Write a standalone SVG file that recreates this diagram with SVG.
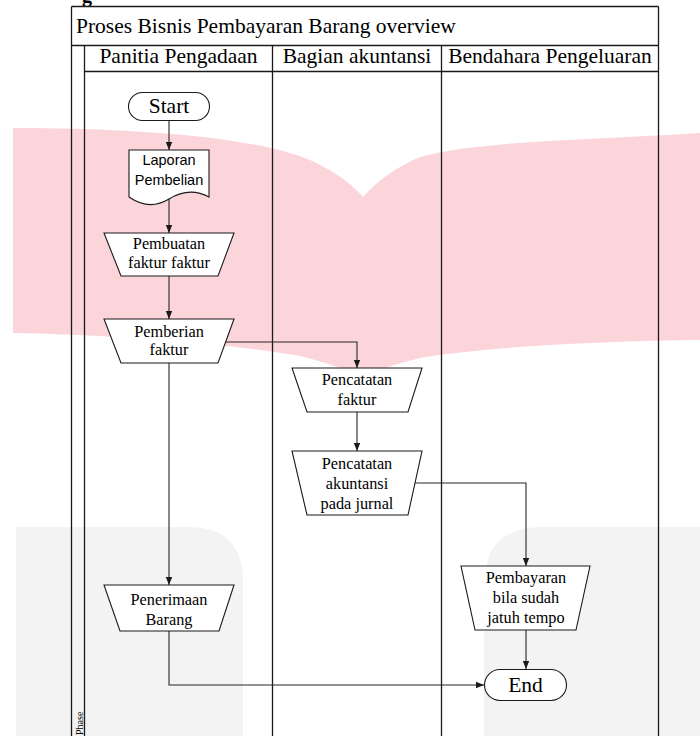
<svg xmlns="http://www.w3.org/2000/svg" width="700" height="736" viewBox="0 0 700 736">
<style>
.frame{fill:none;stroke:#1a1a1a;stroke-width:1.3}
.shape{fill:#ffffff;stroke:#1a1a1a;stroke-width:1.1}
.conn{fill:none;stroke:#262626;stroke-width:1.1}
.serif{font-family:"Liberation Serif","Times New Roman",serif;fill:#000}
.big{font-size:21.5px}
.node{font-size:16.3px;text-anchor:middle}
.sans{font-family:"Liberation Sans",Arial,sans-serif;font-size:14.5px;text-anchor:middle;fill:#000}
</style>
<defs>
<marker id="arr" viewBox="0 0 8 8" markerWidth="8" markerHeight="8" refX="8" refY="4" orient="auto" markerUnits="userSpaceOnUse">
<path d="M0,0.8 L8,4 L0,7.2 Z" fill="#1a1a1a"/>
</marker>
</defs>
<rect width="700" height="736" fill="#ffffff"/>
<g id="watermark">
<path d="M13,128 C120,128 250,135 310,160 Q345,176 363,197 Q385,172 420,157 C480,140 600,140 700,133 V340 C600,341 480,347 420,358 Q385,366 363,378 Q340,366 300,356 C230,344 120,335 13,333 Z" fill="#fcd5da"/>
<path d="M16,736 V527 H188 Q243,527 243,582 V736 Z" fill="#f3f3f3"/>
<path d="M484,736 V585 Q484,527 542,527 H700 V736 Z" fill="#f3f3f3"/>
</g>
<text class="serif" x="82" y="2" style="font-size:20px;font-weight:bold">g</text>
<g id="pool">
<line class="frame" x1="71.5" y1="6.5" x2="658.5" y2="6.5"/>
<line class="frame" x1="71.5" y1="6.5" x2="71.5" y2="736"/>
<line class="frame" x1="658.5" y1="6.5" x2="658.5" y2="736"/>
<line class="frame" x1="71.5" y1="45.5" x2="658.5" y2="45.5"/>
<line class="frame" x1="84.5" y1="45.5" x2="84.5" y2="736"/>
<line class="frame" x1="84.5" y1="71.5" x2="658.5" y2="71.5"/>
<line class="frame" x1="272.5" y1="45.5" x2="272.5" y2="736"/>
<line class="frame" x1="441.5" y1="45.5" x2="441.5" y2="736"/>
<text class="serif big" x="76" y="33">Proses Bisnis Pembayaran Barang overview</text>
<text class="serif big" x="178.5" y="63" text-anchor="middle">Panitia Pengadaan</text>
<text class="serif big" x="357" y="63" text-anchor="middle">Bagian akuntansi</text>
<text class="serif big" x="550" y="63" text-anchor="middle">Bendahara Pengeluaran</text>
<text class="serif" transform="translate(82.5,735) rotate(-90)" style="font-size:10px">Phase</text>
</g>
<g id="connectors">
<path class="conn" d="M169,120 V150" marker-end="url(#arr)"/>
<path class="conn" d="M169,199 V233" marker-end="url(#arr)"/>
<path class="conn" d="M169,276 V319" marker-end="url(#arr)"/>
<path class="conn" d="M226,342 H357 V368" marker-end="url(#arr)"/>
<path class="conn" d="M169,363 V585" marker-end="url(#arr)"/>
<path class="conn" d="M357,412 V451" marker-end="url(#arr)"/>
<path class="conn" d="M415,483 H526 V566" marker-end="url(#arr)"/>
<path class="conn" d="M526,630 V669" marker-end="url(#arr)"/>
<path class="conn" d="M169,631 V685 H484" marker-end="url(#arr)"/>
</g>
<g id="start">
<rect class="shape" x="128.5" y="92.5" width="81" height="28" rx="14" ry="14"/>
<text class="serif big" x="169" y="113" text-anchor="middle">Start</text>
</g>
<g id="laporan">
<path class="shape" d="M129,150 H209 V197 C196,190 182,191 169,199 C156,207 142,206 129,197 Z"/>
<text class="sans" x="169" y="165">Laporan</text>
<text class="sans" x="169" y="185">Pembelian</text>
</g>
<g id="pembuatan">
<path class="shape" d="M104,233 H234 L218,276 H121 Z"/>
<text class="serif node" x="169" y="249">Pembuatan</text>
<text class="serif node" x="169" y="268">faktur faktur</text>
</g>
<g id="pemberian">
<path class="shape" d="M104,319 H234 L218,363 H121 Z"/>
<text class="serif node" x="169" y="337">Pemberian</text>
<text class="serif node" x="169" y="355">faktur</text>
</g>
<g id="pencatatan-faktur">
<path class="shape" d="M292,368 H422 L408,412 H307 Z"/>
<text class="serif node" x="357" y="385">Pencatatan</text>
<text class="serif node" x="357" y="405">faktur</text>
</g>
<g id="pencatatan-akuntansi">
<path class="shape" d="M292,451 H422 L408,515 H307 Z"/>
<text class="serif node" x="357" y="469">Pencatatan</text>
<text class="serif node" x="357" y="489">akuntansi</text>
<text class="serif node" x="357" y="509">pada jurnal</text>
</g>
<g id="penerimaan">
<path class="shape" d="M104,585 H234 L219,631 H120 Z"/>
<text class="serif node" x="169" y="605">Penerimaan</text>
<text class="serif node" x="169" y="625">Barang</text>
</g>
<g id="pembayaran">
<path class="shape" d="M461,566 H590 L576,630 H475 Z"/>
<text class="serif node" x="526" y="583">Pembayaran</text>
<text class="serif node" x="526" y="603">bila sudah</text>
<text class="serif node" x="526" y="623">jatuh tempo</text>
</g>
<g id="end">
<rect class="shape" x="484.5" y="669.5" width="82" height="31" rx="15.5" ry="15.5"/>
<text class="serif big" x="525.5" y="692" text-anchor="middle">End</text>
</g>
</svg>
